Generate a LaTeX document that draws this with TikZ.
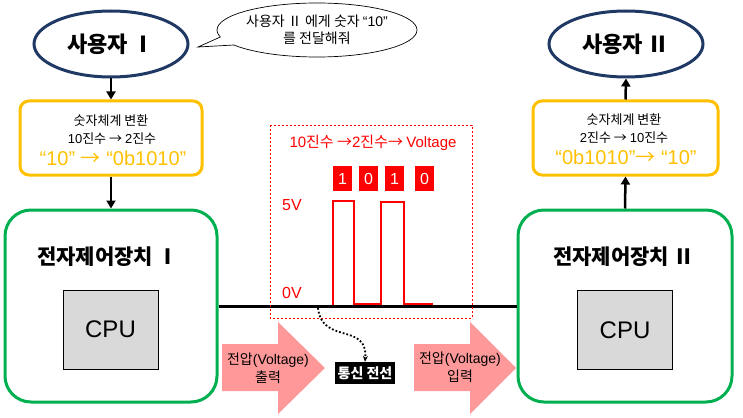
\documentclass[tikz,border=0pt]{standalone}
\usepackage{fontspec}
\setmainfont{Noto Sans CJK KR}
\newfontfamily\latf{Liberation Sans}
\newcommand\lat[1]{{\latf #1}}
\usetikzlibrary{arrows.meta,shapes.geometric}
\definecolor{navy}{HTML}{1F3864}
\definecolor{ygold}{HTML}{FFC000}
\definecolor{ggreen}{HTML}{00B050}
\definecolor{pinkar}{HTML}{FF9999}
\definecolor{cpugray}{HTML}{D9D9D9}
\tikzset{
  userell/.style={draw=navy, line width=3pt, ellipse, minimum width=154pt, minimum height=66pt, inner sep=0pt, font=\fontsize{22}{24}\selectfont\bfseries},
  convbox/.style={draw=ygold, line width=3pt, rounded corners=9pt, inner sep=0pt, minimum height=74pt},
  convtxt/.style={inner sep=0pt, font=\fontsize{13}{15}\selectfont},
  convnum/.style={inner sep=0pt, text=ygold, font=\fontsize{20}{22}\selectfont\latf},
  ecubox/.style={draw=ggreen, line width=3pt, rounded corners=26pt, inner sep=0pt, minimum height=192pt},
  cpubox/.style={draw=black, line width=1pt, fill=cpugray, minimum width=95pt, minimum height=79pt, inner sep=0pt, font=\fontsize{24}{26}\selectfont\latf},
  ecutitle/.style={font=\fontsize{21}{24}\selectfont\bfseries},
  flowarr/.style={line width=2.5pt, -{Triangle[width=9pt,length=8pt]}},
  bitbox/.style={fill=red, text=white, minimum width=19pt, minimum height=25pt, inner sep=0pt, font=\fontsize{16}{17}\selectfont\latf},
  redlbl/.style={text=red, font=\fontsize{15}{16}\selectfont},
  pinktxt/.style={align=center, font=\fontsize{14}{18}\selectfont},
}
\begin{document}
\begin{tikzpicture}[x=1pt,y=-1pt]
\useasboundingbox (0,0) rectangle (743,417);

% speech bubble
\draw[line width=0.7pt, fill=white] (317,30) ellipse [x radius=100pt, y radius=27pt];
\fill[white] (221.5,36) -- (205,46) -- (233,46.5) -- (236,40) -- cycle;
\draw[line width=0.7pt] (220.4,37) -- (198,47) -- (233.9,45);
\node[align=center, font=\fontsize{14}{17}\selectfont] (bubble) at (317,30) {사용자 Ⅱ 에게 숫자 \lat{“10”}\\를 전달해줘};

% users
\node[userell] (u1) at (111,44) {사용자 Ⅰ};
\node[userell] (u2) at (626,44) {사용자 Ⅱ};

% conversion boxes
\node[convbox, minimum width=182pt] (c1) at (111,138) {};
\node[convtxt] (c1a) at (111,121) {숫자체계 변환};
\node[convtxt] (c1b) at (112,139) {\lat{10}진수 → \lat{2}진수};
\node[convnum] (c1c) at (113,158) {“10” {\rmfamily →} “0b1010”};
\node[convbox, minimum width=185pt] (c2) at (625.5,138) {};
\node[convtxt] (c2a) at (624,120) {숫자체계 변환};
\node[convtxt] (c2b) at (624,138) {\lat{2}진수 → \lat{10}진수};
\node[convnum] (c2c) at (626,157) {“0b1010”{\rmfamily →} “10”};

% ECU boxes
\node[ecubox, minimum width=212pt] (g1) at (111,306) {};
\node[ecubox, minimum width=214pt] (g2) at (625,306) {};
\node[ecutitle] (t1) at (108,257) {전자제어장치 Ⅰ};
\node[ecutitle] (t2) at (624,257) {전자제어장치 Ⅱ};
\node[cpubox] (cpu1) at (110.5,329.5) {CPU};
\node[cpubox] (cpu2) at (625,330) {CPU};

% flow arrows
\draw[flowarr] (u1.south) -- (c1.north);
\draw[flowarr] (c1.south) -- (g1.north);
\draw[flowarr] (g2.north) -- (c2.south);
\draw[flowarr] (c2.north) -- (u2.south);

% wire
\draw[line width=3pt] (g1.east) -- (g2.west);

% voltage panel
\draw[red, line width=0.6pt, dash pattern=on 2pt off 2pt] (270,125) rectangle (472,318);
\node[redlbl] (vt) at (373,143) {\lat{10}진수 →\lat{2}진수→ \lat{Voltage}};
\node[bitbox] (b1) at (342.5,178.5) {1};
\node[bitbox] (b2) at (368.5,178.5) {0};
\node[bitbox] (b3) at (394.5,178.5) {1};
\node[bitbox] (b4) at (424.5,178.5) {0};
\node[redlbl, font=\fontsize{16}{17}\selectfont\latf] (v5) at (292,205) {5V};
\node[redlbl, font=\fontsize{16}{17}\selectfont\latf] (v0) at (292,293) {0V};
\draw[red, line width=1.2pt] (333,305) -- (333,201) -- (354,201) -- (354,304) -- (381,304) -- (381,202) -- (404,202) -- (404,304) -- (433,304);

% wire label
\node[fill=black, text=white, minimum width=60pt, minimum height=22pt, inner sep=0pt, font=\fontsize{14}{15}\selectfont\bfseries] (wl) at (365,373) {통신 전선};
\coordinate (wp) at (318,308);
\draw[dotted, line width=1.8pt, -{Stealth[length=6pt,width=5pt]}] (wp) .. controls (322,345) and (368,322) .. (wl.north);

% pink arrows
\fill[pinkar] (222,344) -- (278,344) -- (278,322) -- (325,368) -- (278,414) -- (278,391) -- (222,391) -- cycle;
\node[pinktxt] (pa1) at (268,368) {전압\lat{(Voltage)}\\출력};
\fill[pinkar] (414,344) -- (470,344) -- (470,322) -- (516,368) -- (470,414) -- (470,391) -- (414,391) -- cycle;
\node[pinktxt] (pa2) at (460,367) {전압\lat{(Voltage)}\\입력};
\end{tikzpicture}
\end{document}
